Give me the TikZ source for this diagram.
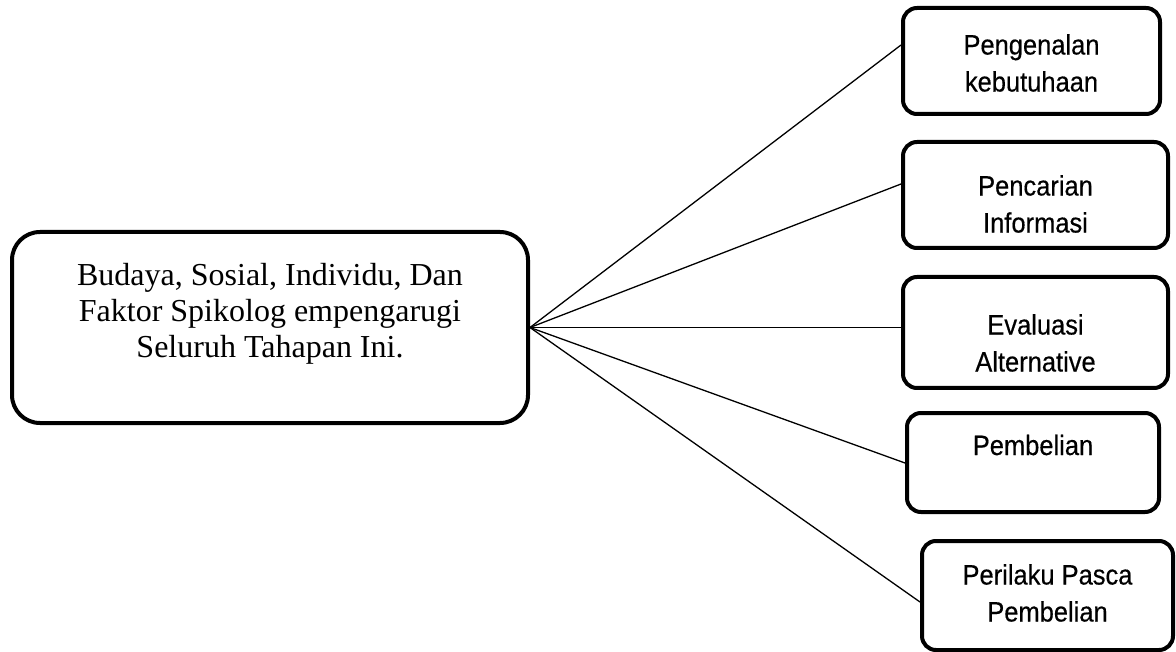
\documentclass[tikz,border=0pt]{standalone}
\usepackage{fontspec}
\setmainfont{Liberation Serif}
\newfontfamily\boxfont[FakeStretch=0.91,FakeBold=0.4]{Liberation Sans}
\begin{document}
\begin{tikzpicture}[x=1pt,y=-1pt,
 bigbox/.style={draw, line width=4pt, rounded corners=28pt, inner sep=0pt},
 smallbox/.style={draw, line width=4pt, rounded corners=14pt, inner sep=0pt},
 link/.style={line width=1.3pt},
 serif/.style={font=\fontsize{32}{36}\selectfont, align=center, inner sep=0pt},
 sans/.style={font=\boxfont\fontsize{28}{37}\selectfont, align=center, inner sep=0pt}]
\useasboundingbox (0,0) rectangle (1176,652);

\node[bigbox, minimum width=516pt, minimum height=191pt] (L) at (270,327.5) {};
\node[serif] (Lt) at (270,314) {Budaya, Sosial, Individu, Dan\\Faktor Spikolog empengarugi\\Seluruh Tahapan Ini.};

\node[smallbox, minimum width=257pt, minimum height=106pt] (b1) at (1031.5,61) {};
\node[smallbox, minimum width=265pt, minimum height=106pt] (b2) at (1035.5,195) {};
\node[smallbox, minimum width=265pt, minimum height=111pt] (b3) at (1035.5,332.5) {};
\node[smallbox, minimum width=252pt, minimum height=99pt] (b4) at (1033,462.5) {};
\node[smallbox, minimum width=251pt, minimum height=109pt] (b5) at (1047.5,595.5) {};

\node[sans] (t1) at (1031.5,63) {Pengenalan\\kebutuhaan};
\node[sans] (t2) at (1035.5,204) {Pencarian\\Informasi};
\node[sans] (t3) at (1035.5,343) {Evaluasi\\Alternative};
\node[sans] (t4) at (1033,445) {Pembelian};
\node[sans] (t5) at (1047.5,593) {Perilaku Pasca\\Pembelian};

\draw[link] (L.east) -- ([yshift=16pt]b1.west);
\draw[link] (L.east) -- ([yshift=11pt]b2.west);
\draw[link] (L.east) -- (b3.west |- L.east);
\draw[link] (L.east) -- ([yshift=-0.5pt]b4.west);
\draw[link] (L.east) -- ([yshift=-6.5pt]b5.west);
\end{tikzpicture}
\end{document}
